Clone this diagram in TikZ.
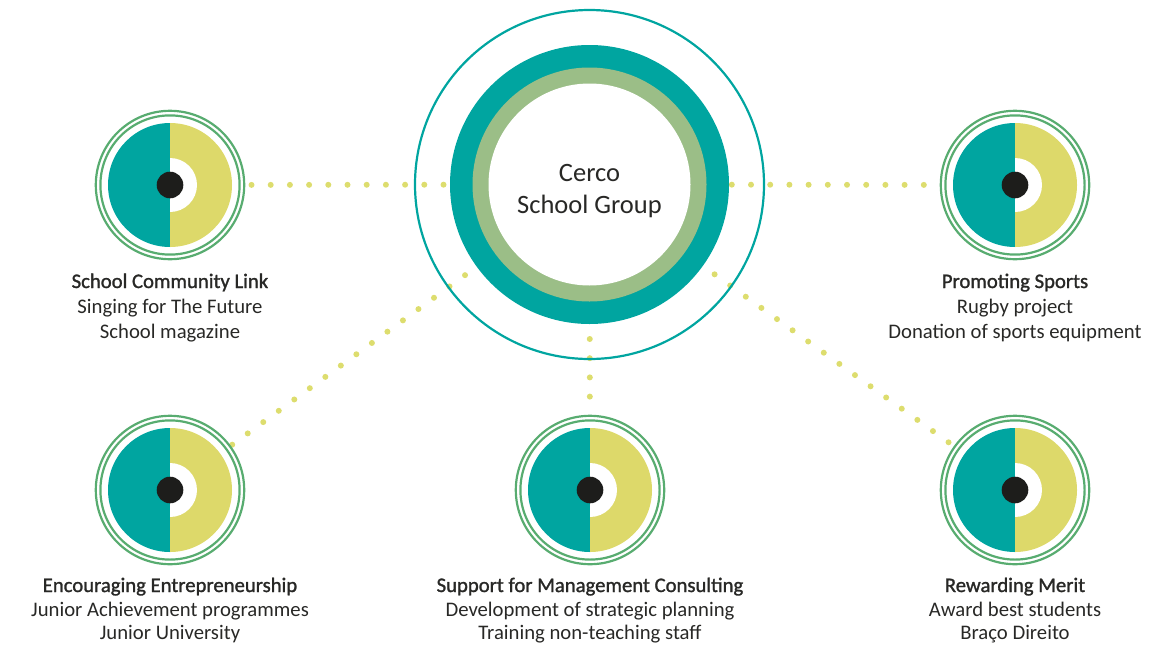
\documentclass[tikz,border=0pt]{standalone}
\usepackage{fontspec}
\setmainfont{Carlito}
\newfontfamily\headfont{Carlito}[FakeBold=1.3]
\usetikzlibrary{calc}
\definecolor{tealc}{RGB}{0,165,160}
\definecolor{yelc}{RGB}{221,217,106}
\definecolor{ringg}{RGB}{88,172,112}
\definecolor{hubg}{RGB}{155,190,135}
\definecolor{dotc}{RGB}{221,221,110}
\definecolor{txt}{RGB}{40,40,38}
\definecolor{blk}{RGB}{29,29,27}
\begin{document}
\begin{tikzpicture}[x=1pt,y=-1pt,
  lab/.style={anchor=base, inner sep=0pt, text=txt, font=\fontsize{20.7}{25}\selectfont},
  head/.style={anchor=base, inner sep=0pt, text=txt, font=\headfont\fontsize{20.7}{25}\selectfont},
  dots/.style={dotc, line width=6pt, line cap=round, dash pattern=on 0pt off 19.2pt},
  hubtxt/.style={anchor=base, inner sep=0pt, text=txt, font=\fontsize{26.5}{32}\selectfont},
  spot/.style={circle, minimum size=150pt, inner sep=0pt}]
\useasboundingbox (0,0) rectangle (1167,645);
% nodes
\node[circle, minimum size=349pt, inner sep=0pt] (hub) at (589.5,184.5) {};
\node[spot] (n1) at (170,185) {};
\node[spot] (n2) at (1015,185) {};
\node[spot] (n3) at (170,490) {};
\node[spot] (n4) at (590,490) {};
\node[spot] (n5) at (1015,490) {};
% dotted connectors
\draw[dots] ($(hub.center)!146pt!(n1.center)$) -- ($(hub.center)!339pt!(n1.center)$);
\draw[dots] ($(hub.center)!142.3pt!(n2.center)$) -- ($(hub.center)!335.3pt!(n2.center)$);
\draw[dots] ($(hub.center)!154pt!(n3.center)$) -- ($(hub.center)!443pt!(n3.center)$);
\draw[dots] ($(hub.center)!154.5pt!(n4.center)$) -- ($(hub.center)!213.1pt!(n4.center)$);
\draw[dots] ($(hub.center)!154pt!(n5.center)$) -- ($(hub.center)!443pt!(n5.center)$);
% hub
\draw[tealc, line width=2.2pt] (hub.center) circle[radius=174.5];
\fill[tealc] (hub.center) circle[radius=139.5];
\fill[hubg] (hub.center) circle[radius=117];
\fill[white] (hub.center) circle[radius=101];
\node[hubtxt] (h1) at (589.5,181.5) {Cerco};
\node[hubtxt] (h2) at (589.5,213) {School Group};
% small circles
\foreach \n in {n1,n2,n3,n4,n5}{
  \draw[ringg, line width=2.2pt] (\n.center) circle[radius=74.2];
  \draw[ringg, line width=2.2pt] (\n.center) circle[radius=69.6];
  \fill[tealc] ($(\n.center)+(0,-62)$) arc[start angle=-90, end angle=-270, radius=62] -- cycle;
  \fill[yelc] ($(\n.center)+(0,-62)$) arc[start angle=-90, end angle=90, radius=62] -- cycle;
  \fill[white] ($(\n.center)+(0,-27)$) arc[start angle=-90, end angle=90, radius=27] -- cycle;
  \fill[blk] (\n.center) circle[radius=13.3];
}
% labels
\node[head] (t1a) at (170,288) {School Community Link};
\node[lab] (t1b) at (170,313) {Singing for The Future};
\node[lab] (t1c) at (170,338) {School magazine};
\node[head] (t2a) at (1015,288) {Promoting Sports};
\node[lab] (t2b) at (1015,313) {Rugby project};
\node[lab] (t2c) at (1015,338) {Donation of sports equipment};
\node[head] (t3a) at (170,592) {Encouraging Entrepreneurship};
\node[lab] (t3b) at (170,616.5) {Junior Achievement programmes};
\node[lab] (t3c) at (170,639.5) {Junior University};
\node[head] (t4a) at (590,592) {Support for Management Consulting};
\node[lab] (t4b) at (590,616.5) {Development of strategic planning};
\node[lab] (t4c) at (590,639.5) {Training non-teaching staff};
\node[head] (t5a) at (1015,592) {Rewarding Merit};
\node[lab] (t5b) at (1015,616.5) {Award best students};
\node[lab] (t5c) at (1015,639.5) {Braço Direito};
\end{tikzpicture}
\end{document}
